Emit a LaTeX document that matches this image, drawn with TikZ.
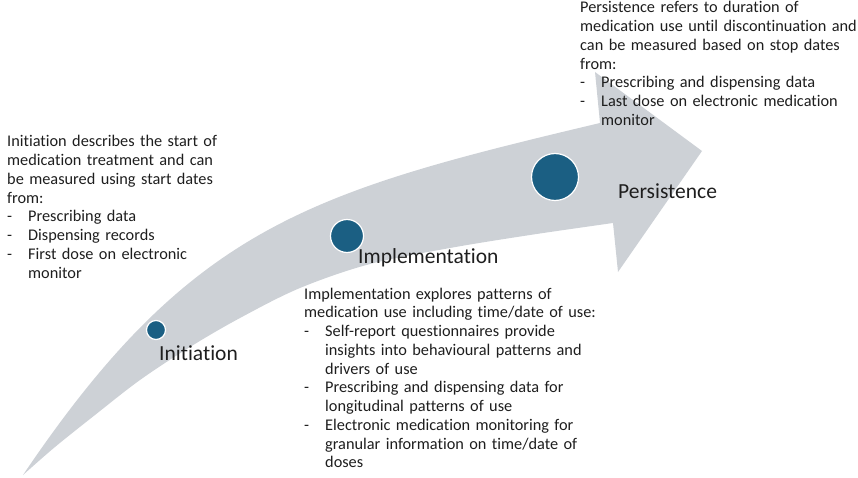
\documentclass[tikz,border=0pt]{standalone}
\usepackage{fontspec}
\setmainfont{Carlito}[Ligatures=NoCommon]
\definecolor{bandgray}{HTML}{CDD1D6}
\definecolor{dotblue}{HTML}{1B5F83}
\definecolor{txt}{HTML}{1E1E1E}
\newcommand{\bul}{\makebox[21pt][l]{-}}
\newcommand{\ind}{\hspace*{21pt}}
\tikzset{
  desc/.style={anchor=base west, inner sep=0pt, text width=300pt, align=left,
    font=\fontsize{16.3}{18.75}\selectfont, text=txt},
  stage/.style={anchor=base west, inner sep=0pt, font=\fontsize{21.5}{24}\selectfont, text=txt},
  dot/.style={circle, fill=dotblue, draw=white, line width=1.2pt, inner sep=0pt}
}
\begin{document}
\begin{tikzpicture}[x=1pt,y=-1pt]
\useasboundingbox (0,0) rectangle (858,478);
% curved arrow
\fill[bandgray] (23,475) .. controls (191,226) and (309,192) .. (600,123)
  -- (595,72) -- (702,151) -- (618,272) -- (613,223)
  -- plot[smooth, tension=0.55] coordinates {(613,223) (530,235) (450,248) (370,264) (300,288) (240,318) (190,347) (140,380) (95,415) (55,447) (23,475)}
  -- cycle;
% dots
\node[dot, minimum size=19pt] (d1) at (156,330) {};
\node[dot, minimum size=33pt] (d2) at (347,236) {};
\node[dot, minimum size=47pt] (d3) at (555,177) {};
% stage labels
\node[stage] (l1) at (159,360) {Initiation};
\node[stage] (l2) at (358,263) {Implementation};
\node[stage] (l3) at (618,199) {Persistence};
% descriptions
\node[desc] (t1) at (7,147) {Initiation describes the start of\\
medication treatment and can\\
be measured using start dates\\
from:\\
\bul Prescribing data\\
\bul Dispensing records\\
\bul First dose on electronic\\
\ind monitor};
\node[desc] (t2) at (304,299) {Implementation explores patterns of\\
medication use including time/date of use:\\
\bul Self-report questionnaires provide\\
\ind insights into behavioural patterns and\\
\ind drivers of use\\
\bul Prescribing and dispensing data for\\
\ind longitudinal patterns of use\\
\bul Electronic medication monitoring for\\
\ind granular information on time/date of\\
\ind doses};
\node[desc] (t3) at (580,13) {Persistence refers to duration of\\
medication use until discontinuation and\\
can be measured based on stop dates\\
from:\\
\bul Prescribing and dispensing data\\
\bul Last dose on electronic medication\\
\ind monitor};
\end{tikzpicture}
\end{document}
